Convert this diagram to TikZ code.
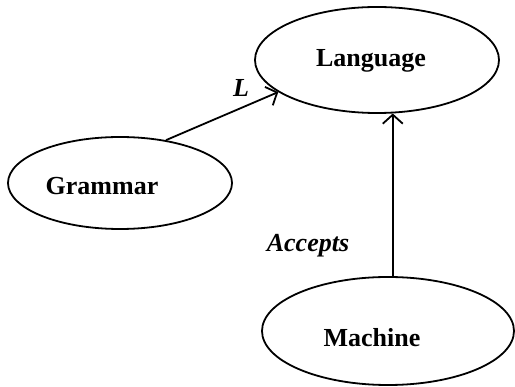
\documentclass[tikz,border=0pt]{standalone}
\usepackage{fontspec}
\setmainfont{Liberation Serif}
\usetikzlibrary{arrows.meta,shapes.geometric}
\begin{document}
\begin{tikzpicture}[x=1pt,y=-1pt,
  oval/.style={draw,ellipse,line width=1.8pt,inner sep=0pt},
  lbl/.style={font=\fontsize{26}{30}\selectfont\bfseries,anchor=base,inner sep=0pt},
  elbl/.style={font=\fontsize{26}{30}\selectfont\bfseries\itshape,anchor=base,inner sep=0pt},
  arr/.style={line width=1.8pt,-{Straight Barb[length=9pt,width=20pt,line width=1.8pt]}}]
\useasboundingbox (0,0) rectangle (515,387);
\node[oval,minimum width=244pt,minimum height=106pt] (l) at (377,60) {};
\node[oval,minimum width=224pt,minimum height=92pt] (g) at (120,183) {};
\node[oval,minimum width=252pt,minimum height=108pt] (m) at (388,331) {};
\node[lbl] (lt) at (371,67) {Language};
\node[lbl] (gt) at (102,195) {Grammar};
\node[lbl] (mt) at (372,347) {Machine};
\draw[arr] (g.43) -- (l.198.6);
\draw[arr] (m.85) -- (l.286.8 -| m.85);
\node[elbl] (ll) at (241,97) {L};
\node[elbl] (al) at (308,252) {Accepts};
\end{tikzpicture}
\end{document}
